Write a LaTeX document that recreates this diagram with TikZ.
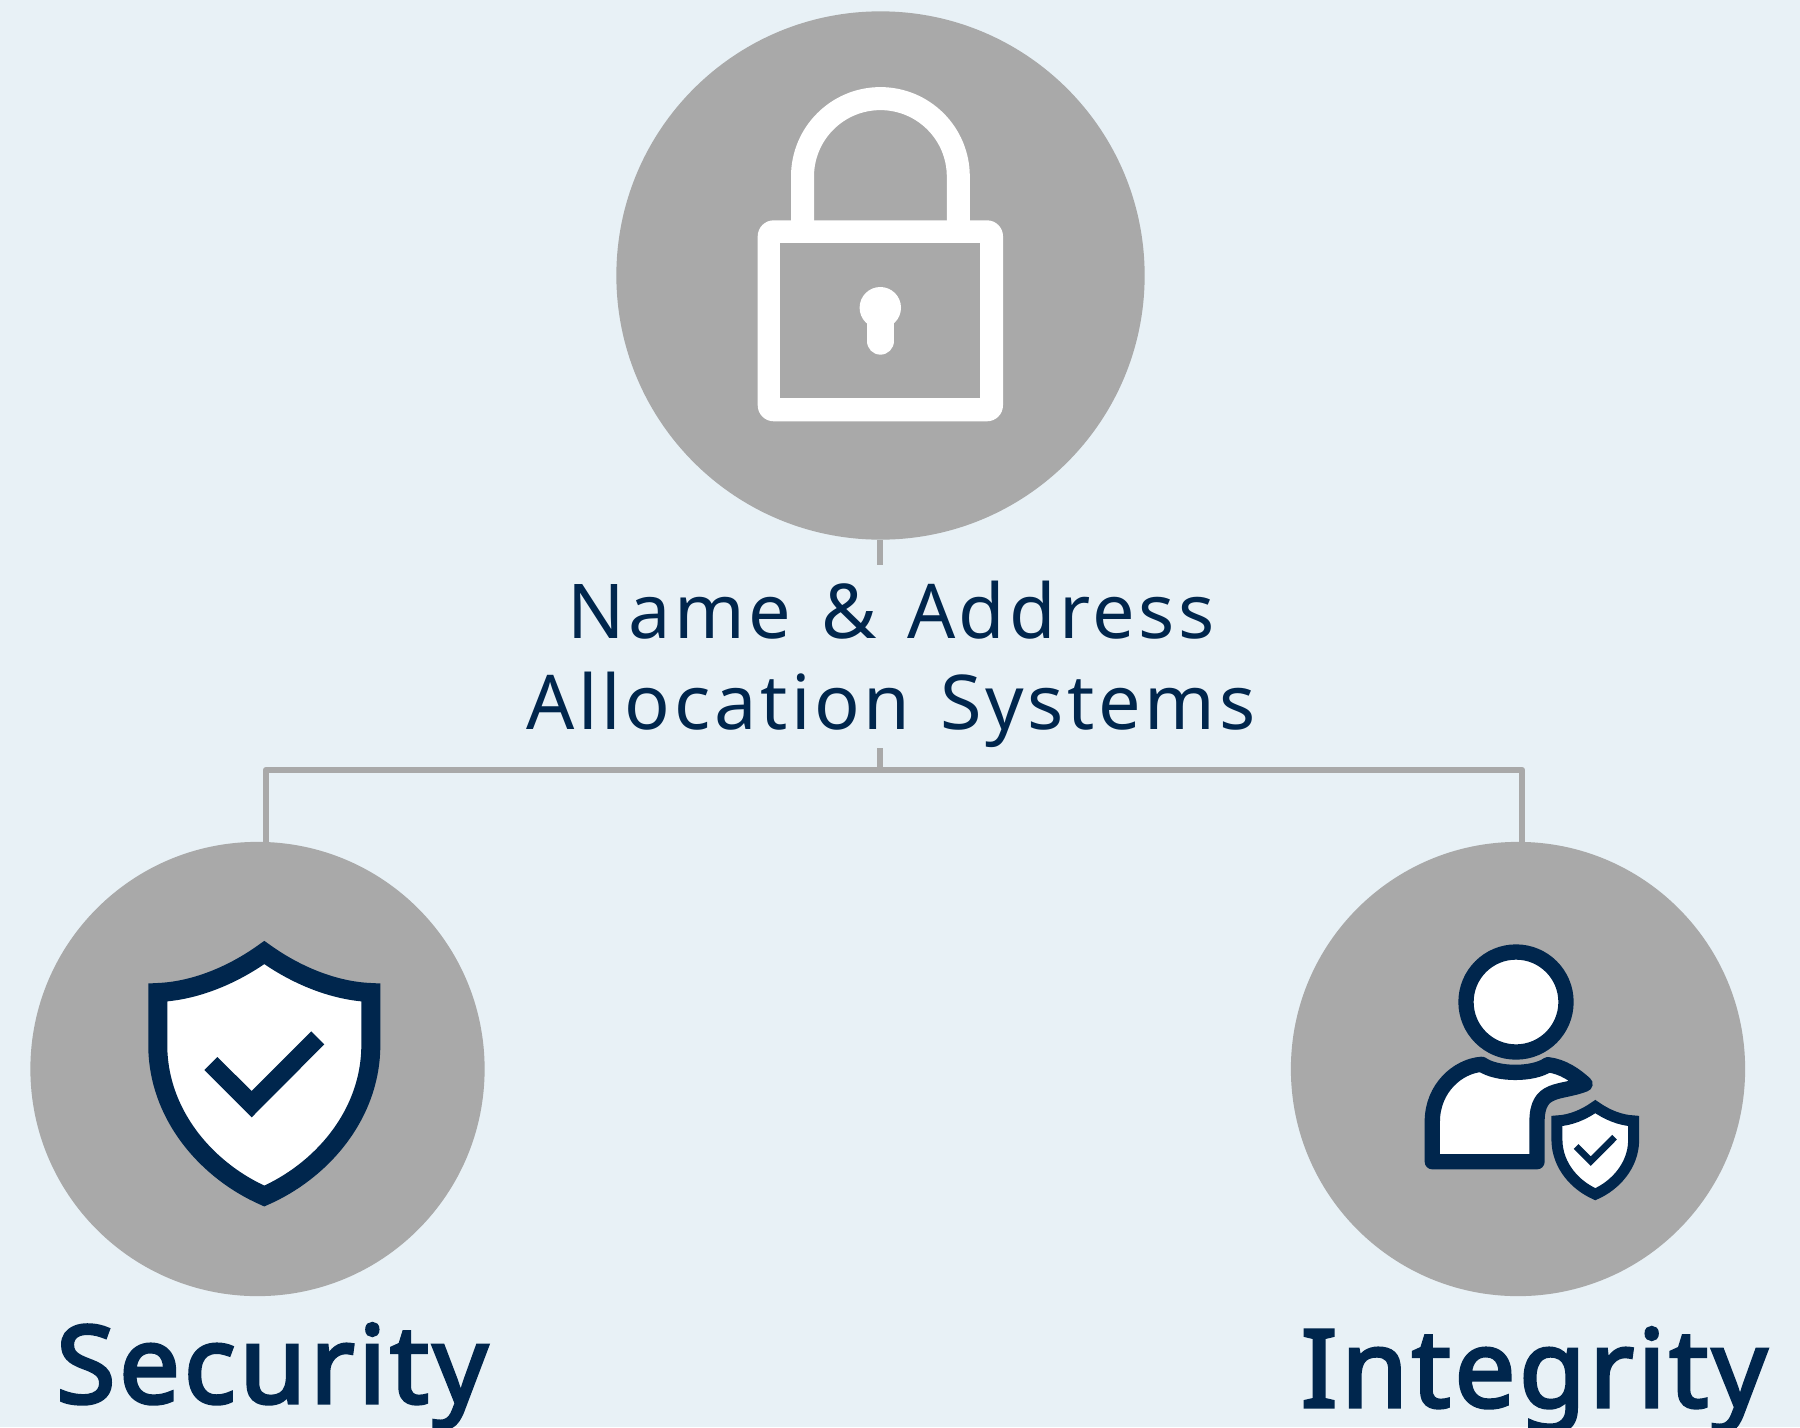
\documentclass[tikz,border=0pt]{standalone}
\usepackage{fontspec}
\setmainfont{Noto Sans}
\newfontfamily\namefont[LetterSpace=4.8,WordSpace=1.3]{Noto Sans}
\newfontfamily\headfont[LetterSpace=3.5,FakeBold=3]{Noto Sans}
\definecolor{pagebg}{HTML}{E8F1F6}
\definecolor{discgray}{HTML}{A9A9A9}
\definecolor{navy}{HTML}{00264D}
\tikzset{
	disc/.style={circle, fill=discgray, draw=none, inner sep=0pt, minimum size=4.54cm},
	bigdisc/.style={disc, minimum size=5.28cm},
	link/.style={draw=discgray, line width=0.065cm},
	namelabel/.style={text=navy, align=center, font=\fontsize{21.5}{25.9}\selectfont\namefont},
	headlabel/.style={text=navy, anchor=base, font=\fontsize{30.7}{36}\selectfont\headfont},
	shieldbadge/.pic={
		\draw[draw=navy, fill=white, line width=#1, miter limit=6] (0,0)
			.. controls (-31.3,22.5) and (-69.3,38.5) .. (-106.5,40) -- (-106.5,95.5)
			.. controls (-105,165) and (-55,219.5) .. (0,243.5)
			.. controls (55,219.5) and (105,165) .. (106.5,95.5) -- (106.5,40)
			.. controls (69.3,38.5) and (31.3,22.5) .. (0,0) -- cycle;
		\fill[navy] (-47,104.5) -- (-12.6,138.5) -- (47,78.8) -- (60,91.8) -- (-12.6,164.8) -- (-60,117.5) -- cycle;
	}
}
\begin{document}
\begin{tikzpicture}[x=0.01cm, y=-0.01cm]
	\useasboundingbox (0,0) rectangle (1800,1427);
	\fill[pagebg] (0,0) rectangle (1800,1427);

	\node[bigdisc] (lockdisc) at (880.5,275.5) {};
	\node[disc] (securitydisc) at (257.5,1069) {};
	\node[disc] (integritydisc) at (1518,1069) {};

	\coordinate (STUB) at (880,565);
	\coordinate (DROP) at (880,748);
	\coordinate (BUS) at (880,770);
	\coordinate (BUSL) at (266,770);
	\coordinate (BUSR) at (1522,770);
	\coordinate (FOOTL) at (266,843);
	\coordinate (FOOTR) at (1522,843);

	\draw[link] (lockdisc.south -| STUB) -- (STUB);
	\draw[link] (DROP) -- (BUS);
	\draw[link, line join=round] (FOOTL) -- (BUSL) -- (BUSR) -- (FOOTR);

	\node[namelabel] (systems) at (891,664) {Name \& Address\\Allocation Systems};
	\node[headlabel] (security) at (272,1403) {Security};
	\node[headlabel] (integrity) at (1534,1407) {Integrity};

	% lock
	\fill[white, rounded corners=0.16cm] (757.7,220.3) rectangle (1003,421.3);
	\fill[discgray] (780.3,243.3) rectangle (980,398.3);
	\draw[white, line width=0.23cm] (802.5,221) -- (802.5,176.5) arc (180:360:77.9) -- (958.3,221);
	\fill[white] (880.3,307.7) circle (20.7);
	\draw[white, line width=0.273cm, line cap=round] (880.3,307.7) -- (880.3,341);

	% shield on the left
	\pic at (264.3,952.5) {shieldbadge=0.19cm};

	% person with small shield
	\draw[navy, fill=white, line width=0.153cm] (1516,1002) circle (50);
	\draw[navy, fill=white, line width=0.153cm, line join=round] (1432.3,1161.7) -- (1432.3,1121.7)
		.. controls (1432.3,1088) and (1458,1066) .. (1481.7,1064.3)
		.. controls (1497,1075) and (1533,1075) .. (1548,1064.7)
		.. controls (1563.3,1066.7) and (1575,1075) .. (1585,1084)
		.. controls (1560,1094) and (1537,1086) .. (1537,1122)
		-- (1537,1161.7) -- cycle;
	\pic[scale=0.36] at (1595.3,1106.5) {shieldbadge=0.11cm};
\end{tikzpicture}
\end{document}
